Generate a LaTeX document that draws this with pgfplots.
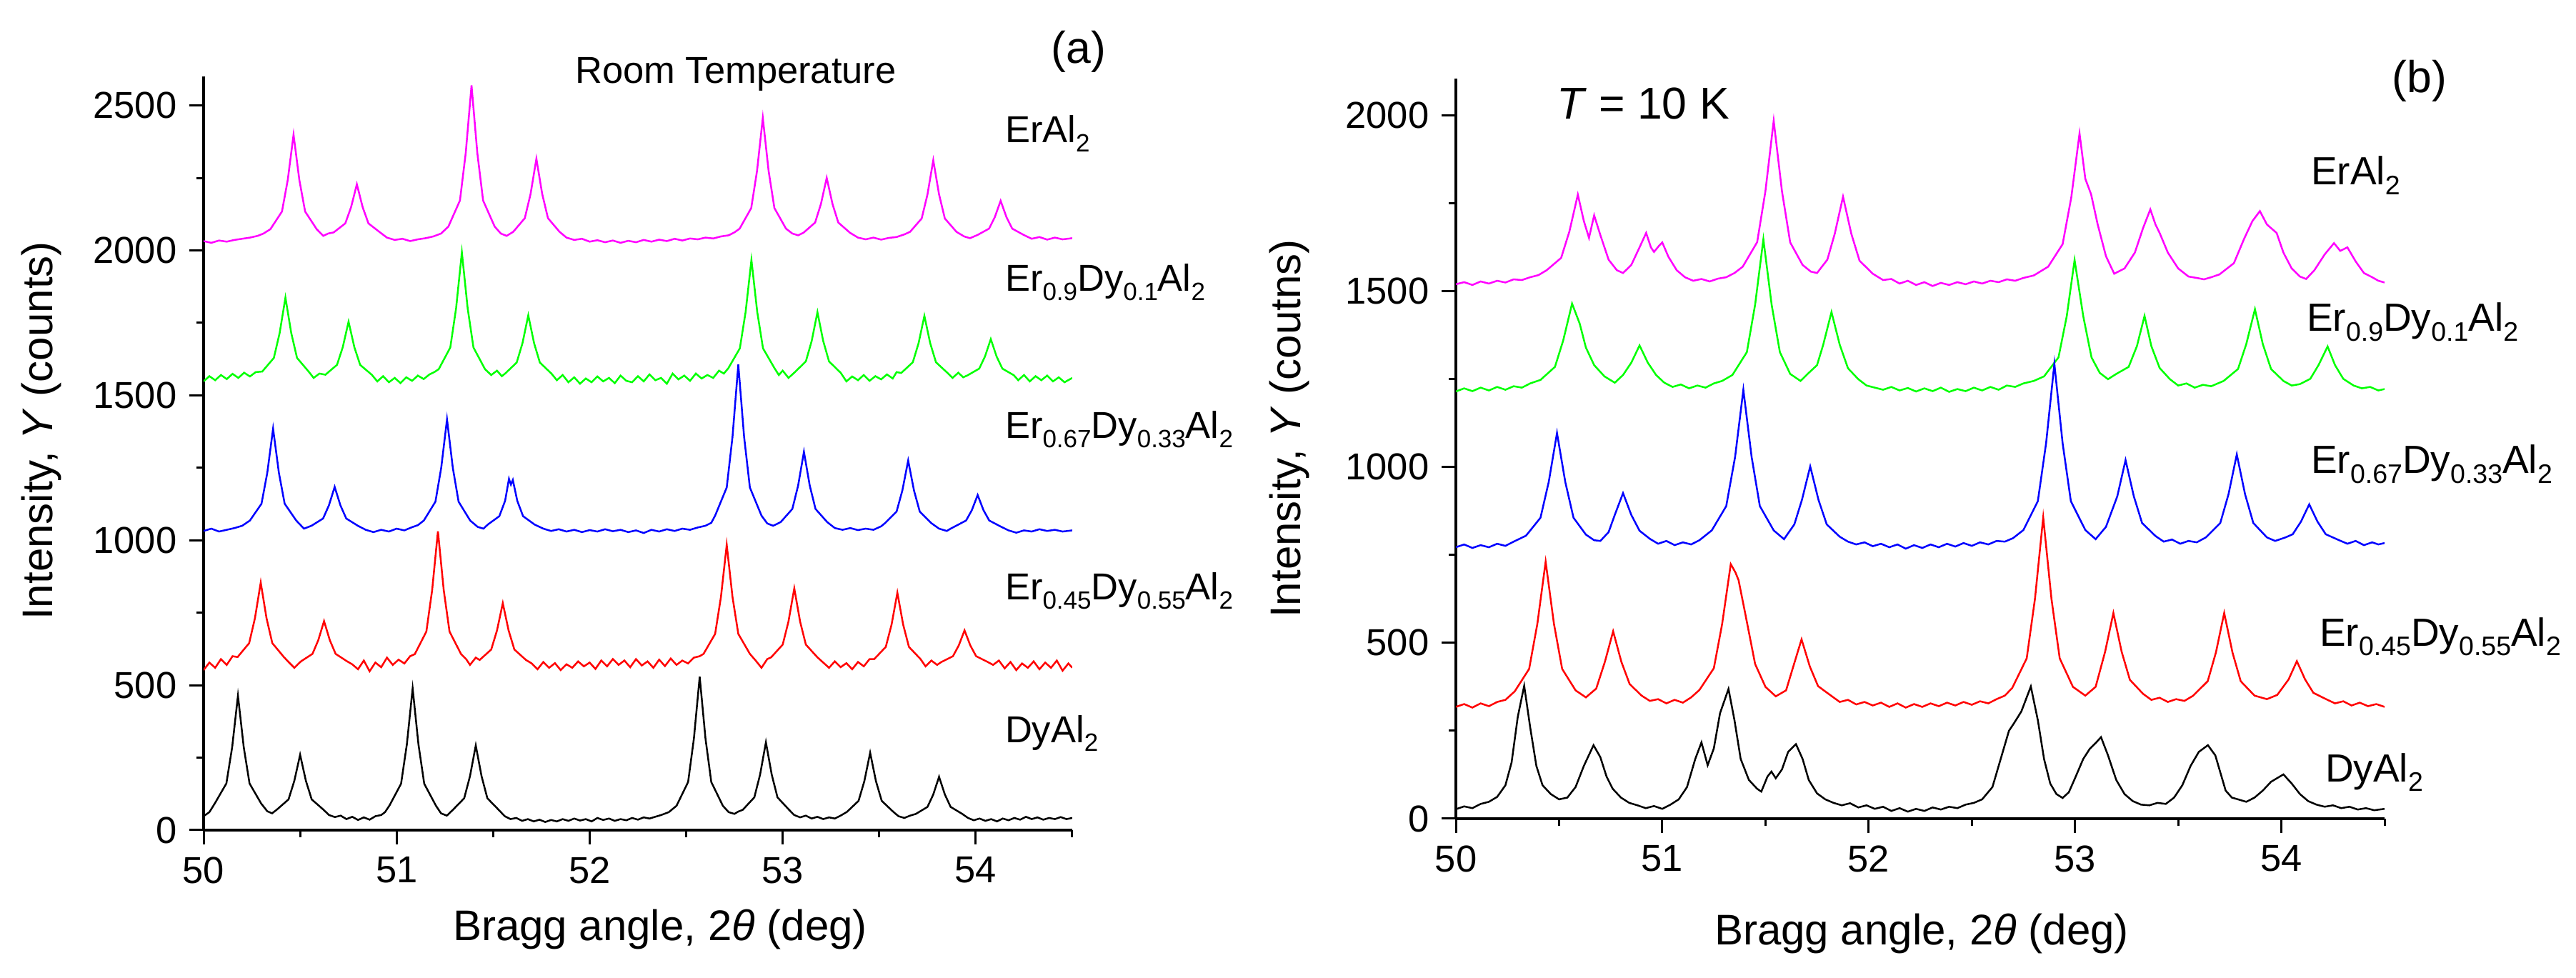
\documentclass[border=0pt]{standalone}
\usepackage{fontspec}
\setmainfont{Liberation Sans}
\usepackage{pgfplots}
\pgfplotsset{compat=1.18}
\definecolor{mag}{RGB}{255,0,255}
\definecolor{grn}{RGB}{0,255,0}
\definecolor{blu}{RGB}{0,0,255}
\definecolor{rd}{RGB}{255,0,0}
\newcommand{\sub}[1]{\raisebox{-2.6pt}{\fontsize{7}{8}\selectfont #1}}
\newcommand{\subb}[1]{\raisebox{-2.8pt}{\fontsize{7.5}{8}\selectfont #1}}
\pgfplotsset{
  myaxis/.style={scale only axis, anchor=south west, xmin=50, xmax=54.5, ymin=0,
    axis x line*=bottom, axis y line*=left,
    axis line style={line width=0.8pt},
    xtick={50,51,52,53,54}, minor xtick={50.5,51.5,52.5,53.5,54.5},
    tick align=outside, major tick length=4pt, minor tick length=2pt,
    tick style={black, line width=0.6pt},
    tick label style={font=\fontsize{10.5}{12}\selectfont},
    /pgf/number format/assume math mode=true,
    /pgf/number format/1000 sep={},
    scaled ticks=false,
    every axis plot/.append style={line width=0.5pt, no marks},
  }
}
\begin{document}
\begin{tikzpicture}
\path[use as bounding box] (0,0) rectangle (721.2pt,273.6pt);
% ---------------- panel (a)
\begin{axis}[myaxis, at={(57pt,41.2pt)}, width=243.2pt, height=211pt, ymax=2600,
  ytick={0,500,1000,1500,2000,2500}, minor y tick num=1]
\addplot[mag] coordinates {(50.00,2032)(50.04,2026)(50.08,2034)(50.12,2030)(50.16,2036)(50.20,2040)(50.24,2044)(50.28,2050)(50.31,2058)(50.346,2073)(50.406,2134)(50.436,2243)(50.466,2399)(50.496,2243)(50.526,2134)(50.586,2073)(50.62,2050)(50.645,2058)(50.674,2062)(50.734,2093)(50.764,2149)(50.794,2228)(50.824,2149)(50.854,2093)(50.914,2062)(50.95,2044)(50.99,2036)(51.03,2040)(51.07,2032)(51.11,2038)(51.15,2042)(51.19,2048)(51.23,2058)(51.268,2082)(51.328,2172)(51.358,2336)(51.388,2569)(51.418,2336)(51.448,2172)(51.508,2082)(51.54,2058)(51.57,2050)(51.604,2064)(51.664,2111)(51.694,2195)(51.724,2316)(51.754,2195)(51.784,2111)(51.844,2064)(51.88,2044)(51.92,2036)(51.96,2040)(52.00,2030)(52.04,2035)(52.08,2028)(52.12,2034)(52.16,2026)(52.20,2033)(52.24,2028)(52.28,2036)(52.32,2030)(52.36,2037)(52.40,2032)(52.44,2040)(52.48,2034)(52.52,2041)(52.56,2038)(52.60,2044)(52.64,2041)(52.68,2048)(52.72,2052)(52.75,2062)(52.777,2075)(52.837,2146)(52.867,2274)(52.897,2457)(52.927,2274)(52.957,2146)(53.017,2075)(53.05,2058)(53.08,2052)(53.108,2061)(53.168,2096)(53.198,2160)(53.228,2250)(53.258,2160)(53.288,2096)(53.348,2061)(53.39,2044)(53.43,2038)(53.47,2044)(53.51,2037)(53.55,2043)(53.59,2046)(53.63,2055)(53.66,2064)(53.72,2110)(53.75,2193)(53.78,2311)(53.81,2193)(53.84,2110)(53.90,2064)(53.94,2048)(53.97,2042)(54.009,2053)(54.069,2075)(54.099,2115)(54.129,2171)(54.159,2115)(54.189,2075)(54.249,2053)(54.29,2040)(54.33,2046)(54.37,2037)(54.41,2044)(54.45,2038)(54.50,2042)};
\addplot[grn] coordinates {(50.00,1548)(50.03,1566)(50.06,1552)(50.09,1570)(50.12,1556)(50.15,1574)(50.18,1560)(50.21,1578)(50.24,1565)(50.27,1580)(50.304,1582)(50.364,1629)(50.394,1715)(50.424,1837)(50.454,1715)(50.484,1629)(50.544,1582)(50.57,1560)(50.60,1575)(50.631,1571)(50.691,1605)(50.721,1666)(50.751,1754)(50.781,1666)(50.811,1605)(50.871,1571)(50.90,1548)(50.93,1566)(50.96,1545)(50.99,1560)(51.02,1542)(51.05,1562)(51.08,1550)(51.11,1568)(51.14,1556)(51.17,1572)(51.195,1580)(51.218,1590)(51.278,1665)(51.308,1800)(51.338,1993)(51.368,1800)(51.398,1665)(51.458,1590)(51.49,1570)(51.52,1585)(51.545,1566)(51.562,1575)(51.622,1613)(51.652,1680)(51.682,1776)(51.712,1680)(51.742,1613)(51.802,1575)(51.83,1552)(51.86,1570)(51.89,1545)(51.92,1562)(51.95,1540)(51.98,1558)(52.01,1545)(52.04,1565)(52.07,1548)(52.10,1560)(52.13,1542)(52.16,1568)(52.19,1550)(52.22,1545)(52.25,1566)(52.28,1548)(52.31,1572)(52.34,1552)(52.37,1560)(52.40,1540)(52.43,1575)(52.46,1555)(52.49,1568)(52.52,1550)(52.55,1575)(52.58,1558)(52.61,1570)(52.64,1560)(52.67,1585)(52.695,1575)(52.718,1593)(52.778,1662)(52.808,1788)(52.838,1967)(52.868,1788)(52.898,1662)(52.958,1593)(52.98,1570)(53.00,1585)(53.03,1560)(53.06,1578)(53.12,1617)(53.15,1687)(53.18,1787)(53.21,1687)(53.24,1617)(53.30,1578)(53.33,1548)(53.36,1565)(53.39,1552)(53.42,1570)(53.45,1550)(53.48,1566)(53.51,1555)(53.54,1572)(53.57,1558)(53.59,1580)(53.614,1577)(53.674,1614)(53.704,1680)(53.734,1774)(53.764,1680)(53.794,1614)(53.854,1577)(53.88,1560)(53.91,1578)(53.935,1562)(53.958,1569)(54.018,1592)(54.048,1634)(54.078,1694)(54.108,1634)(54.138,1592)(54.198,1569)(54.22,1552)(54.25,1570)(54.28,1548)(54.31,1566)(54.34,1552)(54.37,1568)(54.40,1548)(54.43,1562)(54.46,1545)(54.50,1560)};
\addplot[blu] coordinates {(50.00,1032)(50.04,1040)(50.08,1030)(50.12,1036)(50.16,1042)(50.20,1050)(50.24,1068)(50.30,1126)(50.33,1233)(50.36,1385)(50.39,1233)(50.42,1126)(50.48,1068)(50.52,1040)(50.559,1050)(50.619,1075)(50.649,1120)(50.679,1184)(50.709,1120)(50.739,1075)(50.799,1050)(50.84,1036)(50.88,1028)(50.92,1036)(50.96,1030)(51.00,1040)(51.04,1034)(51.08,1045)(51.11,1052)(51.141,1068)(51.201,1133)(51.231,1250)(51.261,1417)(51.291,1250)(51.321,1133)(51.381,1068)(51.42,1046)(51.45,1040)(51.472,1054)(51.532,1083)(51.562,1136)(51.582,1212)(51.592,1192)(51.602,1208)(51.625,1136)(51.655,1083)(51.715,1054)(51.76,1040)(51.80,1032)(51.84,1038)(51.88,1030)(51.92,1036)(51.96,1028)(52.00,1035)(52.04,1030)(52.08,1038)(52.12,1031)(52.16,1036)(52.20,1028)(52.24,1034)(52.28,1025)(52.32,1036)(52.36,1030)(52.40,1038)(52.44,1032)(52.48,1040)(52.52,1036)(52.56,1044)(52.60,1050)(52.63,1060)(52.65,1085)(52.71,1182)(52.74,1357)(52.77,1606)(52.80,1357)(52.83,1182)(52.89,1085)(52.92,1058)(52.95,1050)(52.97,1056)(52.99,1063)(53.05,1108)(53.08,1189)(53.11,1305)(53.14,1189)(53.17,1108)(53.23,1063)(53.27,1042)(53.31,1036)(53.35,1042)(53.39,1035)(53.43,1040)(53.47,1036)(53.51,1048)(53.53,1059)(53.59,1099)(53.62,1172)(53.65,1275)(53.68,1172)(53.71,1099)(53.77,1059)(53.81,1040)(53.85,1032)(53.87,1040)(53.89,1047)(53.95,1068)(53.98,1104)(54.01,1156)(54.04,1104)(54.07,1068)(54.13,1047)(54.17,1034)(54.21,1026)(54.25,1034)(54.29,1030)(54.33,1038)(54.37,1032)(54.41,1036)(54.45,1030)(54.50,1034)};
\addplot[rd] coordinates {(50.00,552)(50.03,578)(50.06,560)(50.09,590)(50.12,570)(50.15,600)(50.176,597)(50.236,645)(50.266,731)(50.296,854)(50.326,731)(50.356,645)(50.416,597)(50.44,580)(50.47,560)(50.504,582)(50.564,608)(50.594,655)(50.624,721)(50.654,655)(50.684,608)(50.744,582)(50.77,572)(50.80,555)(50.83,585)(50.86,548)(50.89,578)(50.92,562)(50.95,595)(50.98,570)(51.01,588)(51.04,575)(51.07,600)(51.094,607)(51.154,685)(51.184,828)(51.214,1031)(51.244,828)(51.274,685)(51.334,607)(51.36,590)(51.38,570)(51.41,595)(51.43,587)(51.49,623)(51.52,689)(51.55,783)(51.58,689)(51.61,623)(51.67,587)(51.70,575)(51.73,555)(51.76,580)(51.79,560)(51.82,576)(51.85,552)(51.88,572)(51.91,560)(51.94,582)(51.97,565)(52.00,578)(52.03,556)(52.06,585)(52.09,565)(52.12,590)(52.15,570)(52.18,585)(52.21,562)(52.24,590)(52.27,568)(52.30,582)(52.33,560)(52.36,588)(52.39,566)(52.42,592)(52.45,570)(52.48,585)(52.51,575)(52.54,595)(52.57,600)(52.59,608)(52.65,677)(52.68,804)(52.71,984)(52.74,804)(52.77,677)(52.83,608)(52.86,585)(52.89,560)(52.92,590)(52.94,596)(53.00,640)(53.03,720)(53.06,834)(53.09,720)(53.12,640)(53.18,596)(53.21,578)(53.24,560)(53.27,582)(53.30,562)(53.33,576)(53.36,555)(53.39,580)(53.42,565)(53.45,590)(53.474,590)(53.534,632)(53.564,709)(53.594,819)(53.624,709)(53.654,632)(53.714,590)(53.74,565)(53.77,585)(53.80,570)(53.822,580)(53.882,600)(53.912,637)(53.942,689)(53.972,637)(54.002,600)(54.062,580)(54.09,570)(54.12,585)(54.15,558)(54.18,580)(54.21,552)(54.24,575)(54.27,560)(54.30,582)(54.33,555)(54.36,578)(54.39,560)(54.42,585)(54.45,550)(54.48,575)(54.50,560)};
\addplot[black] coordinates {(50.00,48)(50.03,62)(50.058,92)(50.118,161)(50.148,286)(50.178,464)(50.208,286)(50.238,161)(50.298,92)(50.33,65)(50.355,58)(50.38,71)(50.44,106)(50.47,170)(50.50,260)(50.53,170)(50.56,106)(50.62,71)(50.65,52)(50.68,45)(50.71,50)(50.74,38)(50.77,46)(50.80,35)(50.83,44)(50.86,36)(50.89,48)(50.92,52)(50.94,62)(50.963,85)(51.023,160)(51.053,296)(51.083,489)(51.113,296)(51.143,160)(51.203,85)(51.23,58)(51.26,50)(51.29,69)(51.35,110)(51.38,186)(51.41,292)(51.44,186)(51.47,110)(51.53,69)(51.56,48)(51.59,38)(51.62,42)(51.65,32)(51.68,38)(51.71,30)(51.74,36)(51.77,28)(51.80,35)(51.83,30)(51.86,38)(51.89,32)(51.92,40)(51.95,33)(51.98,38)(52.01,30)(52.04,42)(52.07,35)(52.10,40)(52.13,32)(52.16,38)(52.19,34)(52.22,42)(52.25,36)(52.28,44)(52.31,40)(52.34,46)(52.37,52)(52.41,62)(52.45,84)(52.51,166)(52.54,316)(52.57,529)(52.60,316)(52.63,166)(52.69,84)(52.72,62)(52.75,56)(52.77,64)(52.793,70)(52.853,113)(52.883,192)(52.913,303)(52.943,192)(52.973,113)(53.033,70)(53.06,52)(53.09,44)(53.12,50)(53.15,40)(53.18,46)(53.21,38)(53.24,44)(53.27,40)(53.30,50)(53.333,63)(53.393,101)(53.423,169)(53.453,267)(53.483,169)(53.513,101)(53.573,63)(53.60,48)(53.63,42)(53.66,50)(53.69,56)(53.75,80)(53.78,123)(53.81,184)(53.84,123)(53.87,80)(53.93,56)(53.96,42)(53.99,34)(54.02,40)(54.05,32)(54.08,38)(54.11,30)(54.14,40)(54.17,34)(54.20,42)(54.23,36)(54.26,46)(54.29,38)(54.32,44)(54.35,36)(54.38,42)(54.41,38)(54.44,45)(54.47,38)(54.50,42)};
\end{axis}
% ---------------- panel (b)
\begin{axis}[myaxis, at={(407.6pt,44.4pt)}, width=260pt, height=207.2pt, ymax=2105,
  ytick={0,500,1000,1500,2000}, minor y tick num=1]
\addplot[mag] coordinates {(50.00,1520)(50.04,1526)(50.08,1518)(50.12,1528)(50.16,1522)(50.20,1530)(50.24,1525)(50.28,1534)(50.32,1532)(50.36,1540)(50.40,1546)(50.44,1560)(50.51,1595)(50.55,1670)(50.591,1775)(50.62,1700)(50.645,1652)(50.67,1716)(50.70,1660)(50.74,1590)(50.78,1560)(50.81,1552)(50.85,1575)(50.89,1625)(50.922,1666)(50.945,1625)(50.96,1612)(50.985,1630)(51.00,1639)(51.03,1598)(51.07,1560)(51.11,1540)(51.15,1530)(51.19,1535)(51.23,1528)(51.27,1536)(51.31,1540)(51.35,1552)(51.39,1570)(51.46,1640)(51.50,1785)(51.54,1985)(51.58,1785)(51.62,1639)(51.68,1575)(51.72,1556)(51.75,1552)(51.80,1590)(51.836,1664)(51.876,1769)(51.916,1664)(51.956,1587)(52.02,1550)(52.07,1532)(52.11,1535)(52.15,1522)(52.19,1530)(52.23,1518)(52.27,1526)(52.31,1515)(52.35,1524)(52.39,1518)(52.43,1526)(52.47,1520)(52.51,1528)(52.55,1522)(52.59,1530)(52.63,1526)(52.67,1534)(52.71,1530)(52.75,1538)(52.80,1545)(52.87,1570)(52.94,1634)(52.982,1767)(53.022,1949)(53.05,1820)(53.078,1776)(53.11,1690)(53.15,1600)(53.19,1550)(53.24,1565)(53.29,1610)(53.33,1680)(53.365,1733)(53.39,1690)(53.41,1666)(53.45,1610)(53.50,1565)(53.55,1542)(53.59,1538)(53.625,1534)(53.66,1540)(53.70,1548)(53.77,1580)(53.82,1650)(53.86,1700)(53.896,1728)(53.93,1690)(53.977,1666)(54.01,1610)(54.05,1565)(54.09,1542)(54.12,1535)(54.16,1560)(54.21,1605)(54.255,1637)(54.285,1615)(54.32,1625)(54.36,1585)(54.40,1552)(54.44,1540)(54.47,1530)(54.50,1525)};
\addplot[grn] coordinates {(50.00,1215)(50.04,1224)(50.08,1216)(50.12,1226)(50.16,1218)(50.20,1228)(50.24,1220)(50.28,1230)(50.32,1226)(50.36,1238)(50.41,1248)(50.48,1285)(50.52,1360)(50.563,1465)(50.60,1408)(50.63,1340)(50.67,1290)(50.72,1258)(50.77,1240)(50.81,1262)(50.85,1297)(50.89,1346)(50.93,1297)(50.97,1262)(51.01,1240)(51.05,1228)(51.09,1235)(51.13,1224)(51.17,1232)(51.21,1226)(51.25,1238)(51.29,1245)(51.34,1262)(51.41,1327)(51.45,1462)(51.49,1648)(51.53,1462)(51.57,1327)(51.62,1265)(51.67,1245)(51.71,1268)(51.75,1290)(51.78,1348)(51.82,1441)(51.86,1348)(51.90,1281)(51.95,1250)(51.99,1232)(52.03,1226)(52.07,1220)(52.11,1228)(52.15,1218)(52.19,1225)(52.23,1215)(52.27,1224)(52.31,1216)(52.35,1226)(52.39,1214)(52.43,1222)(52.47,1216)(52.51,1226)(52.55,1218)(52.59,1228)(52.63,1220)(52.67,1232)(52.71,1228)(52.75,1238)(52.80,1245)(52.85,1258)(52.92,1312)(52.96,1429)(52.998,1589)(53.04,1429)(53.08,1312)(53.12,1268)(53.16,1250)(53.20,1265)(53.26,1285)(53.30,1344)(53.337,1430)(53.37,1344)(53.41,1282)(53.46,1250)(53.50,1232)(53.54,1238)(53.58,1226)(53.62,1234)(53.66,1230)(53.72,1245)(53.79,1279)(53.83,1350)(53.872,1449)(53.91,1350)(53.95,1279)(54.01,1245)(54.05,1232)(54.09,1236)(54.14,1251)(54.18,1290)(54.224,1343)(54.26,1290)(54.30,1251)(54.35,1232)(54.39,1224)(54.43,1228)(54.47,1218)(54.50,1222)};
\addplot[blu] coordinates {(50.00,772)(50.04,780)(50.08,770)(50.12,778)(50.16,772)(50.20,782)(50.24,776)(50.28,788)(50.34,805)(50.41,856)(50.45,958)(50.49,1097)(50.53,958)(50.57,856)(50.63,808)(50.67,792)(50.70,790)(50.74,815)(50.77,864)(50.81,926)(50.85,864)(50.89,819)(50.94,796)(50.98,782)(51.02,790)(51.06,778)(51.10,786)(51.14,780)(51.18,792)(51.24,820)(51.31,889)(51.353,1029)(51.393,1220)(51.433,1029)(51.473,889)(51.54,820)(51.59,795)(51.64,837)(51.677,907)(51.717,1002)(51.757,907)(51.797,837)(51.86,802)(51.90,788)(51.94,780)(51.98,786)(52.02,775)(52.06,782)(52.10,772)(52.14,780)(52.18,768)(52.22,778)(52.26,770)(52.30,780)(52.34,772)(52.38,782)(52.42,774)(52.46,784)(52.50,776)(52.54,786)(52.58,780)(52.62,790)(52.66,788)(52.70,798)(52.75,821)(52.82,903)(52.86,1068)(52.90,1294)(52.94,1068)(52.98,903)(53.05,821)(53.10,795)(53.15,830)(53.205,917)(53.245,1020)(53.285,917)(53.325,841)(53.39,804)(53.43,788)(53.47,794)(53.51,782)(53.55,790)(53.59,786)(53.634,800)(53.704,841)(53.744,923)(53.784,1036)(53.824,923)(53.864,841)(53.93,800)(53.97,790)(54.02,800)(54.055,809)(54.095,845)(54.135,894)(54.175,845)(54.215,809)(54.28,792)(54.32,782)(54.36,790)(54.40,778)(54.44,786)(54.47,780)(54.50,784)};
\addplot[rd] coordinates {(50.00,318)(50.04,326)(50.08,316)(50.12,328)(50.16,320)(50.20,332)(50.24,338)(50.285,362)(50.355,426)(50.395,555)(50.435,731)(50.475,555)(50.515,426)(50.58,365)(50.63,345)(50.68,370)(50.722,446)(50.762,533)(50.802,446)(50.842,383)(50.90,350)(50.94,335)(50.98,340)(51.02,328)(51.06,338)(51.10,330)(51.14,345)(51.18,366)(51.25,428)(51.29,553)(51.332,724)(51.355,700)(51.37,678)(51.41,560)(51.45,440)(51.50,375)(51.55,348)(51.60,365)(51.635,433)(51.675,510)(51.715,433)(51.755,377)(51.82,349)(51.86,332)(51.90,338)(51.94,325)(51.98,332)(52.02,322)(52.06,330)(52.10,318)(52.14,328)(52.18,316)(52.22,326)(52.26,318)(52.30,328)(52.34,320)(52.38,330)(52.42,322)(52.46,332)(52.50,324)(52.54,334)(52.58,328)(52.62,340)(52.66,350)(52.696,372)(52.766,456)(52.806,625)(52.846,857)(52.886,625)(52.926,456)(52.99,375)(53.05,350)(53.10,375)(53.146,475)(53.186,585)(53.226,475)(53.266,395)(53.33,355)(53.37,338)(53.41,344)(53.45,332)(53.49,340)(53.53,335)(53.573,350)(53.643,391)(53.683,473)(53.723,585)(53.763,473)(53.803,391)(53.87,350)(53.93,340)(53.98,352)(54.035,396)(54.075,448)(54.115,396)(54.155,358)(54.22,339)(54.26,328)(54.30,334)(54.34,322)(54.38,330)(54.42,320)(54.46,326)(54.50,318)};
\addplot[black] coordinates {(50.00,27)(50.04,35)(50.08,30)(50.12,42)(50.16,48)(50.20,62)(50.24,95)(50.27,160)(50.30,290)(50.331,378)(50.36,260)(50.39,150)(50.42,95)(50.46,70)(50.50,55)(50.54,60)(50.58,90)(50.62,150)(50.667,209)(50.70,175)(50.73,120)(50.76,85)(50.80,60)(50.84,45)(50.88,38)(50.92,30)(50.96,36)(51.00,28)(51.04,40)(51.08,55)(51.12,90)(51.16,170)(51.19,217)(51.22,152)(51.25,200)(51.28,300)(51.321,369)(51.35,280)(51.38,170)(51.42,110)(51.46,85)(51.48,77)(51.51,120)(51.529,134)(51.55,115)(51.58,140)(51.61,190)(51.648,212)(51.68,170)(51.71,110)(51.75,72)(51.79,55)(51.83,45)(51.87,38)(51.91,44)(51.95,32)(51.99,38)(52.03,28)(52.07,34)(52.11,22)(52.15,30)(52.19,20)(52.23,28)(52.27,22)(52.31,32)(52.35,26)(52.39,34)(52.43,30)(52.47,40)(52.51,45)(52.55,55)(52.60,90)(52.64,170)(52.68,250)(52.706,273)(52.74,305)(52.786,376)(52.82,280)(52.85,170)(52.88,100)(52.91,70)(52.94,59)(52.97,75)(53.00,115)(53.04,170)(53.072,199)(53.10,215)(53.126,232)(53.16,180)(53.20,110)(53.24,70)(53.28,50)(53.32,40)(53.36,38)(53.40,45)(53.44,42)(53.48,60)(53.52,95)(53.56,150)(53.60,190)(53.644,209)(53.68,180)(53.71,120)(53.73,80)(53.76,60)(53.79,55)(53.83,48)(53.87,60)(53.91,80)(53.95,105)(54.01,126)(54.05,100)(54.09,70)(54.13,50)(54.17,40)(54.21,34)(54.25,38)(54.29,30)(54.33,34)(54.37,26)(54.41,30)(54.45,24)(54.50,28)};
\end{axis}
% ---------------- texts
\node[rotate=90, font=\fontsize{12}{14}\selectfont] at (11.6pt,153pt) {Intensity, \textit{Y} (counts)};
\node[rotate=90, font=\fontsize{12}{14}\selectfont] at (361pt,153.6pt) {Intensity, \textit{Y} (coutns)};
\node[anchor=base, font=\fontsize{12}{14}\selectfont] at (184.8pt,10.4pt) {Bragg angle, 2\textit{θ} (deg)};
\node[anchor=base, font=\fontsize{12}{14}\selectfont] at (538pt,9.2pt) {Bragg angle, 2\textit{θ} (deg)};
\node[anchor=base, font=\fontsize{10.5}{12}\selectfont] at (206pt,250.2pt) {Room Temperature};
\node[anchor=base, font=\fontsize{12.5}{14}\selectfont] at (302pt,255.8pt) {(a)};
\node[anchor=base, font=\fontsize{12.5}{14}\selectfont] at (677.4pt,247.6pt) {(b)};
\node[anchor=base, font=\fontsize{12.5}{14}\selectfont] at (460pt,240.2pt) {\textit{T} = 10 K};
\begin{scope}[every node/.style={anchor=base west, inner sep=0pt, font=\fontsize{10.5}{12}\selectfont}]
\node at (281.2pt,233.6pt) {ErAl\sub{2}};
\node at (281.2pt,192pt) {Er\sub{0.9}Dy\sub{0.1}Al\sub{2}};
\node at (281.2pt,150.8pt) {Er\sub{0.67}Dy\sub{0.33}Al\sub{2}};
\node at (281.2pt,105.6pt) {Er\sub{0.45}Dy\sub{0.55}Al\sub{2}};
\node at (281.2pt,65.8pt) {DyAl\sub{2}};
\end{scope}
\begin{scope}[every node/.style={anchor=base west, inner sep=0pt, font=\fontsize{11}{13}\selectfont}]
\node at (646.8pt,221.8pt) {ErAl\subb{2}};
\node at (645.6pt,180.8pt) {Er\subb{0.9}Dy\subb{0.1}Al\subb{2}};
\node at (646.8pt,141pt) {Er\subb{0.67}Dy\subb{0.33}Al\subb{2}};
\node at (649.2pt,92.8pt) {Er\subb{0.45}Dy\subb{0.55}Al\subb{2}};
\node at (650.8pt,54.8pt) {DyAl\subb{2}};
\end{scope}
\end{tikzpicture}
\end{document}
